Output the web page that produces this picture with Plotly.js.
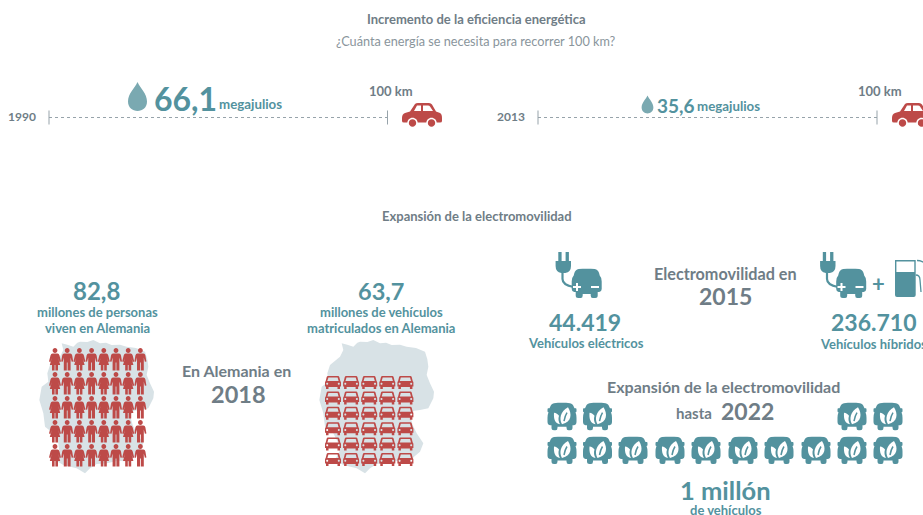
<!DOCTYPE html>
<html>
<head>
<meta charset="utf-8">
<script src="https://cdn.plot.ly/plotly-3.0.1.min.js"></script>
<style>body{margin:0;background:#fff;overflow:hidden}</style>
</head>
<body>
<div id="chart" style="width:923px;height:515px"></div>
<script>
// values
var years = [1990, 2013];
var energyMJ = [66.1, 35.6];
var tripKm = [0, 100];
var population2018 = 82.8;
var vehicles2018 = 63.7;
var electric2015 = 44419;
var hybrid2015 = 236710;
var peopleRows = 5, peopleCols = 8;
var carRows = 6, carCols = 5;
var leafTopSlots = [0, 1, 8, 9];
var leafBottomSlots = [0, 1, 2, 3, 4, 5, 6, 7, 8, 9];

var TEAL = '#53929e', RED = '#bd4a48', GREY = '#6f7d86', LIGHT = '#8a959c', MAP = '#d8e2e6', DROP = '#7aa9b1';
var FONT = 'Lato, sans-serif';

function es(v) { return String(v).replace('.', ',').replace(/\B(?=(\d{3})+$)/g, '.'); }

var shapes = [];
var annotations = [];

function txt(s, x, y, size, color, bold, anchor) {
  annotations.push({
    text: bold === false ? s : '<b>' + s + '</b>', x: x, y: y, xref: 'x', yref: 'y',
    xanchor: anchor || 'center', yanchor: 'middle', showarrow: false, borderpad: 0, borderwidth: 0,
    font: {family: FONT, size: size, color: color}
  });
}

// moves a local icon path to x,y on the pixel axes
function place(path, x, y, s) {
  var isX = true;
  return path.replace(/-?\d*\.?\d+/g, function (n) {
    var out = isX ? x + n * s : y + n * s;
    isX = !isX;
    return out.toFixed(2);
  });
}
function icon(path, x, y, s, color) {
  shapes.push({type: 'path', xref: 'x', yref: 'y', path: place(path, x, y, s), fillcolor: color, fillrule: 'evenodd', line: {width: 0}, layer: 'above'});
}
function stroke(path, x, y, s, color, w) {
  shapes.push({type: 'path', xref: 'x', yref: 'y', path: place(path, x, y, s), line: {color: color, width: w}, layer: 'above'});
}
function circle(cx, cy, r) {
  var k = r * 0.55;
  return 'M' + (cx - r) + ',' + cy + ' C' + (cx - r) + ',' + (cy - k) + ' ' + (cx - k) + ',' + (cy - r) + ' ' + cx + ',' + (cy - r) +
    ' C' + (cx + k) + ',' + (cy - r) + ' ' + (cx + r) + ',' + (cy - k) + ' ' + (cx + r) + ',' + cy +
    ' C' + (cx + r) + ',' + (cy + k) + ' ' + (cx + k) + ',' + (cy + r) + ' ' + cx + ',' + (cy + r) +
    ' C' + (cx - k) + ',' + (cy + r) + ' ' + (cx - r) + ',' + (cy + k) + ' ' + (cx - r) + ',' + cy + ' Z ';
}

var DROP_PATH = 'M0,-14.5 C3,-8 9.5,-3 9.5,5 C9.5,11 5,14.5 0,14.5 C-5,14.5 -9.5,11 -9.5,5 C-9.5,-3 -3,-8 0,-14.5 Z';
var MAN = circle(0, -9, 2.4) + 'M-3,-6 L3,-6 Q4.6,-6 5,-4 L6,2 L4.5,2.3 L3.4,-2 L3.4,11 L0.4,11 L0.4,3 L-0.4,3 L-0.4,11 L-3.4,11 L-3.4,-2 L-4.5,2.3 L-6,2 L-5,-4 Q-4.6,-6 -3,-6 Z';
var WOMAN = circle(0, -9, 2.4) + 'M-2.5,-6 L2.5,-6 Q4,-6 4.5,-4 L6,2 L4.6,2.4 L3.2,-1.5 L5.2,5.5 L3,5.5 L3,11 L0.4,11 L0.4,5.5 L-0.4,5.5 L-0.4,11 L-3,11 L-3,5.5 L-5.2,5.5 L-3.2,-1.5 L-4.6,2.4 L-6,2 L-4.5,-4 Q-4,-6 -2.5,-6 Z';
var CAR_FRONT = 'M-5,-6.5 L5,-6.5 Q6,-6.5 6.3,-5.5 L7.3,-1.5 Q8,-1 8,0 L8,4 L7,4 L7,6.5 L4.5,6.5 L4.5,4.5 L-4.5,4.5 L-4.5,6.5 L-7,6.5 L-7,4 L-8,4 L-8,0 Q-8,-1 -7.3,-1.5 L-6.3,-5.5 Q-6,-6.5 -5,-6.5 Z ' +
  'M-4.6,-5 L4.6,-5 L5.6,-1.5 L-5.6,-1.5 Z ' + circle(-5.8, 1.2, 1) + circle(5.8, 1.2, 1);
var CAR_SIDE = 'M-20,3 Q-20,-1 -17,-2 L-12,-3.5 L-7,-11 Q-6,-12 -4,-12 L7,-12 Q9,-12 10,-10.5 L14,-3.5 L18,-2 Q20,-1 20,3 L20,6 Q20,7.5 18,7.5 L-18,7.5 Q-20,7.5 -20,6 Z ' +
  'M-8,-4 L-5,-9.5 L-1,-9.5 L-1,-4 Z M1,-9.5 L6,-9.5 Q7.5,-9.5 8,-8.5 L11,-4 L1,-4 Z';
var LEAF_CAR = 'M-8,-13.5 C-3,-14 3,-14 8,-13.5 Q11,-13 12,-9.5 L12.5,-8.5 L14,-8.5 Q14.5,-8.5 14.5,-7 L14.5,-5.5 Q14.5,-4.5 13.5,-4.5 Q14.5,-2 14.5,1 L14.5,5 Q14.5,8 12,8.5 L10.5,8.5 L10.5,11 Q10.5,13.5 8,13.5 L6.5,13.5 Q4.5,13.5 4.5,11 L4.5,10 L-4.5,10 L-4.5,11 Q-4.5,13.5 -6.5,13.5 L-8,13.5 Q-10.5,13.5 -10.5,11 L-10.5,8.5 L-12,8.5 Q-14.5,8 -14.5,5 L-14.5,1 Q-14.5,-2 -13.5,-4.5 Q-14.5,-4.5 -14.5,-5.5 L-14.5,-7 Q-14.5,-8.5 -14,-8.5 L-12.5,-8.5 L-12,-9.5 Q-11,-13 -8,-13.5 Z';
var LEAF_BIG = 'M0,8.5 C-3,3 -2,-4 6,-8.5 C10,-2 10,6 0,8.5 Z';
var LEAF_SMALL = 'M-2,8.5 C-7,8 -8.5,3 -8,-3 C-6,-3 -4,-1.5 -3,0 C-4,3 -3.5,6 -2,8.5 Z';
var LEAF_VEIN = 'M2,5.5 Q3,0 5,-3';
var PLUG_CAR_BODY = 'M-8,-14.5 C-3,-15 3,-15 8,-14.5 Q11.5,-14 12.5,-10 L13,-8 Q15,-6 15,-2 L15,5.5 Q15,8 12.5,8.5 L11,8.5 L11,12 Q11,14.5 8.5,14.5 L6,14.5 Q4,14.5 4,12 L4,10.5 L-4,10.5 L-4,12 Q-4,14.5 -6,14.5 L-8.5,14.5 Q-11,14.5 -11,12 L-11,8.5 L-12.5,8.5 Q-15,8 -15,5.5 L-15,-2 Q-15,-6 -13,-8 L-12.5,-10 Q-11.5,-14 -8,-14.5 Z';
var PLUG = 'M-7.7,0 L7.7,0 L7.7,5 Q7.7,11 2,12 L-2,12 Q-7.7,11 -7.7,5 Z M-5,-9 L-1.7,-9 L-1.7,0 L-5,0 Z M2.3,-9 L5.6,-9 L5.6,0 L2.3,0 Z';
var GERMANY = [[95,10],[112,14],[130,20],[142,8],[150,5],[172,6],[190,0],[210,10],[228,8],[245,15],[270,14],[290,20],[318,24],[345,35],[352,58],[355,80],[350,105],[360,130],[372,155],[370,175],[355,205],[330,210],[312,212],[300,225],[308,255],[320,280],[340,310],[330,335],[312,350],[300,365],[265,362],[230,370],[200,372],[180,385],[165,400],[140,385],[100,375],[75,360],[88,335],[85,310],[70,280],[45,260],[40,220],[28,180],[35,140],[55,125],[52,100],[60,75],[90,50],[100,30]];

function germany(ox, oy) {
  var p = GERMANY.map(function (d, i) { return (i ? 'L' : 'M') + (ox + d[0] / 3) + ',' + (oy + d[1] / 3); }).join(' ') + ' Z';
  shapes.push({type: 'path', xref: 'x', yref: 'y', path: p, fillcolor: MAP, line: {width: 0}, layer: 'below'});
}
function sideCar(x, y) {
  icon(CAR_SIDE, x, y, 1, RED);
  [-9.5, 9.5].forEach(function (dx) {
    icon(circle(dx, 8, 5.2), x, y, 1, '#ffffff');
    icon(circle(dx, 8, 3.7), x, y, 1, RED);
  });
}
function plugCar(dx) {
  icon(PLUG, 563.3 + dx, 261, 1, TEAL);
  stroke('M0,0 L0,6 Q0,12 11,14', 562.5 + dx, 273, 1, TEAL, 2.2);
  icon(PLUG_CAR_BODY, 586.7 + dx, 283.5, 1, TEAL);
  icon('M-4,-1 L-1,-1 L-1,-4 L1,-4 L1,-1 L4,-1 L4,1 L1,1 L1,4 L-1,4 L-1,1 L-4,1 Z', 577 + dx, 287, 1, '#ffffff');
  icon('M-4,-1 L4,-1 L4,1 L-4,1 Z', 595 + dx, 287, 1, '#ffffff');
}
function leafCar(x, y) {
  icon(LEAF_CAR, x, y, 1, TEAL);
  icon(LEAF_BIG, x, y - 1, 1, '#ffffff');
  icon(LEAF_SMALL, x, y - 1, 1, '#ffffff');
  stroke(LEAF_VEIN, x, y - 1, 1, TEAL, 1.5);
}

// energy per 100 km
txt('Incremento de la eficiencia energética', 476.5, 19, 13, GREY);
txt('¿Cuánta energía se necesita para recorrer 100 km?', 476, 41, 12.7, LIGHT, false);
var tripLayout = [
  {yearX: 8, dropX: 137.5, dropY: 96.5, num: 154, numY: 98, numSize: 32, unit: 219, unitY: 104, kmX: 391, carX: 422, size: 1},
  {yearX: 497, dropX: 647.5, dropY: 104.5, num: 657, numY: 105, numSize: 19, unit: 697, unitY: 106, kmX: 880, carX: 912, size: 0.62}
];
years.forEach(function (yr, i) {
  var t = tripLayout[i];
  txt(String(yr), t.yearX, 116.5, 12, GREY, true, 'left');
  icon(DROP_PATH, t.dropX, t.dropY, t.size, DROP);
  txt(es(energyMJ[i]), t.num, t.numY, t.numSize, TEAL, true, 'left');
  txt('megajulios', t.unit, t.unitY, 13.3, TEAL, true, 'left');
  txt('100 km', t.kmX, 91, 13, GREY);
  sideCar(t.carX, 115);
});

// 2018
txt('Expansión de la electromovilidad', 476.5, 216, 13, GREY);
txt(es(population2018), 96.5, 290.5, 24, TEAL);
txt('millones de personas', 97, 311.5, 13, TEAL);
txt('viven en Alemania', 97, 327.5, 13, TEAL);
txt('En Alemania en', 236.5, 370.5, 16, GREY);
txt('2018', 238.5, 394, 23.5, GREY);
txt(es(vehicles2018), 381, 290.5, 23.5, TEAL);
txt('millones de vehículos', 381, 311.5, 13, TEAL);
txt('matriculados en Alemania', 381, 327.5, 13, TEAL);
germany(30, 340);
germany(310, 340);
for (var r = 0; r < peopleRows; r++) {
  for (var c = 0; c < peopleCols; c++) {
    icon(c % 2 ? MAN : WOMAN, 55 + c * 12.2, 359.5 + r * 24, 1, RED);
  }
}
for (var r2 = 0; r2 < carRows; r2++) {
  for (var c2 = 0; c2 < carCols; c2++) {
    icon(CAR_FRONT, 333 + c2 * 18.1, 382.5 + r2 * 15.4, 1, RED);
  }
}

// 2015
plugCar(0);
plugCar(264.5);
txt(es(electric2015), 585, 322, 23, TEAL);
txt('Vehículos eléctricos', 585.5, 343, 13, TEAL);
txt('Electromovilidad en', 725.5, 273, 16.2, GREY);
txt('2015', 725, 296, 23, GREY);
txt('+', 878, 283, 22, TEAL);
icon('M895,272 L915.7,272 L915.7,295 Q915.7,297 913.7,297 L897,297 Q895,297 895,295 Z', 0, 0, 1, TEAL);
stroke('M895.7,272 L895.7,260.7 L915,260.7 L915,272', 0, 0, 1, TEAL, 1.4);
stroke('M917,260.5 Q921,260.5 925,263', 0, 0, 1, TEAL, 1.3);
stroke('M915.7,275 Q920,275 920,280 L921,292', 0, 0, 1, TEAL, 1.3);
txt(es(hybrid2015), 874, 322, 23, TEAL);
txt('Vehículos híbridos', 873, 344, 13, TEAL);

// towards 2022
txt('Expansión de la electromovilidad', 723.5, 386.5, 16, GREY);
txt('hasta', 676, 412.5, 15, GREY, true, 'left');
txt('2022', 721, 411, 23, GREY, true, 'left');
var leafX = [562, 597.5, 633, 670, 706, 743, 779, 816, 852, 888];
leafTopSlots.forEach(function (s) { leafCar(leafX[s], 416.7); });
leafBottomSlots.forEach(function (s) { leafCar(leafX[s], 450.5); });
txt('1 millón', 725.5, 489.5, 25.5, TEAL);
txt('de vehículos', 725.5, 509.5, 13, TEAL);

function tripTrace(i) {
  return {
    x: tripKm, y: [117.5, 117.5], xaxis: i ? 'x3' : 'x2', yaxis: 'y',
    mode: 'lines+markers', cliponaxis: false, hoverinfo: 'skip', showlegend: false,
    line: {color: '#97a3aa', width: 1, dash: '3px,3px'},
    marker: {symbol: 'line-ns', size: 10, line: {color: '#97a3aa', width: 1}}
  };
}
var anchorTrace = {x: [0], y: [0], mode: 'none', hoverinfo: 'skip', showlegend: false};
var data = [anchorTrace, tripTrace(0), tripTrace(1)];

var hidden = {visible: false, fixedrange: true};
var layout = {
  width: 923, height: 515,
  margin: {l: 0, r: 0, t: 0, b: 0},
  paper_bgcolor: '#ffffff', plot_bgcolor: 'rgba(0,0,0,0)',
  showlegend: false,
  xaxis: Object.assign({range: [0, 923]}, hidden),
  yaxis: Object.assign({range: [515, 0]}, hidden),
  xaxis2: Object.assign({domain: [49 / 923, 387.5 / 923], range: tripKm, anchor: 'y'}, hidden),
  xaxis3: Object.assign({domain: [538 / 923, 877 / 923], range: tripKm, anchor: 'y'}, hidden),
  shapes: shapes,
  annotations: annotations
};
Plotly.newPlot('chart', data, layout, {displayModeBar: false, staticPlot: true});
</script>
</body>
</html>
